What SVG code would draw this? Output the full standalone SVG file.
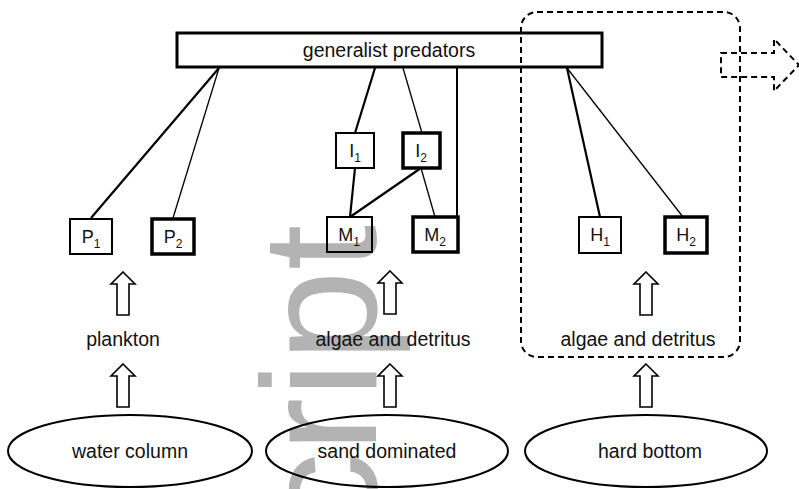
<svg xmlns="http://www.w3.org/2000/svg" width="799" height="489" viewBox="0 0 799 489">
<style>
text{font-family:"Liberation Sans",Arial,sans-serif}
.lbl{font-size:19.5px;text-anchor:middle;fill:#111}
.nd{font-size:18px;text-anchor:middle;fill:#111}
.sub{font-size:12px}
.wm{font-size:164px;fill:#b3b3b3}
.box{fill:none;stroke:#000}
.thin{stroke-width:2}
.thick{stroke-width:3.5}
.blk{fill:#fff;stroke:#000;stroke-width:1.6}
.ell{fill:none;stroke:#000;stroke-width:2}
.dash{fill:none;stroke:#000;stroke-width:2;stroke-dasharray:6 4}
#connectors line{stroke:#000}
</style>
<defs>
<path id="up" d="M0,0 L12,12 L6,12 L6,43 L-6,43 L-6,12 L-12,12 Z"/>
</defs>
<rect width="799" height="489" fill="#fff"/>
<g id="watermark"><text class="wm" transform="translate(376,644) rotate(-90)">Script</text></g>

<g id="connectors">
<line x1="219" y1="68" x2="91" y2="218" stroke-width="2.2"/>
<line x1="219" y1="68" x2="173" y2="218" stroke-width="1.3"/>
<line x1="375" y1="68" x2="355" y2="133" stroke-width="2.2"/>
<line x1="403" y1="68" x2="422" y2="133" stroke-width="1.3"/>
<line x1="457" y1="68" x2="457" y2="217" stroke-width="2"/>
<line x1="355" y1="168" x2="350" y2="217" stroke-width="2.2"/>
<line x1="421" y1="168" x2="350" y2="217" stroke-width="2.2"/>
<line x1="421" y1="168" x2="435" y2="217" stroke-width="1.3"/>
<line x1="567" y1="68" x2="600" y2="217" stroke-width="2.2"/>
<line x1="567" y1="68" x2="683" y2="217" stroke-width="1.3"/>
</g>

<g id="predators">
<rect x="177" y="33" width="425" height="34" fill="#fff" stroke="#000" stroke-width="3"/>
<text class="lbl" x="389" y="57">generalist predators</text>
</g>

<g id="I1"><rect class="box thin" x="336" y="133" width="38" height="35"/><text class="nd" x="355" y="157">I<tspan class="sub" dy="5">1</tspan></text></g>
<g id="I2"><rect class="box thick" x="403" y="133" width="37" height="35"/><text class="nd" x="421" y="157">I<tspan class="sub" dy="5">2</tspan></text></g>
<g id="P1"><rect class="box thin" x="70" y="219" width="42" height="35"/><text class="nd" x="91" y="243">P<tspan class="sub" dy="5">1</tspan></text></g>
<g id="P2"><rect class="box thick" x="152" y="219" width="42" height="35"/><text class="nd" x="173" y="243">P<tspan class="sub" dy="5">2</tspan></text></g>
<g id="M1"><rect class="box thin" x="327" y="217" width="45" height="35"/><text class="nd" x="349" y="241">M<tspan class="sub" dy="5">1</tspan></text></g>
<g id="M2"><rect class="box thick" x="413" y="217" width="45" height="35"/><text class="nd" x="435" y="241">M<tspan class="sub" dy="5">2</tspan></text></g>
<g id="H1"><rect class="box thin" x="579" y="217" width="42" height="36"/><text class="nd" x="600" y="241">H<tspan class="sub" dy="5">1</tspan></text></g>
<g id="H2"><rect class="box thick" x="665" y="217" width="42" height="36"/><text class="nd" x="686" y="241">H<tspan class="sub" dy="5">2</tspan></text></g>

<g id="arrows">
<use href="#up" class="blk" x="123" y="272"/>
<use href="#up" class="blk" x="390" y="271"/>
<use href="#up" class="blk" x="646" y="272"/>
<use href="#up" class="blk" x="123" y="364"/>
<use href="#up" class="blk" x="390" y="364"/>
<use href="#up" class="blk" x="646" y="364"/>
</g>

<g id="plankton"><text class="lbl" x="123" y="346">plankton</text></g>
<g id="algae1"><text class="lbl" x="393" y="346">algae and detritus</text></g>
<g id="algae2"><text class="lbl" x="638" y="346">algae and detritus</text></g>

<g id="water"><ellipse class="ell" cx="130" cy="451" rx="122" ry="36"/><text class="lbl" x="130" y="458">water column</text></g>
<g id="sand"><ellipse class="ell" cx="387" cy="451" rx="121" ry="36"/><text class="lbl" x="387" y="458">sand dominated</text></g>
<g id="hard"><ellipse class="ell" cx="646" cy="451" rx="121" ry="36"/><text class="lbl" x="650" y="458">hard bottom</text></g>

<g id="hardbox"><rect class="dash" x="521" y="12" width="219" height="345" rx="16"/></g>
<g id="outarrow"><path class="dash" d="M721,53 L774,53 L774,39 L799,65 L774,91 L774,77 L721,77 Z"/></g>
</svg>
